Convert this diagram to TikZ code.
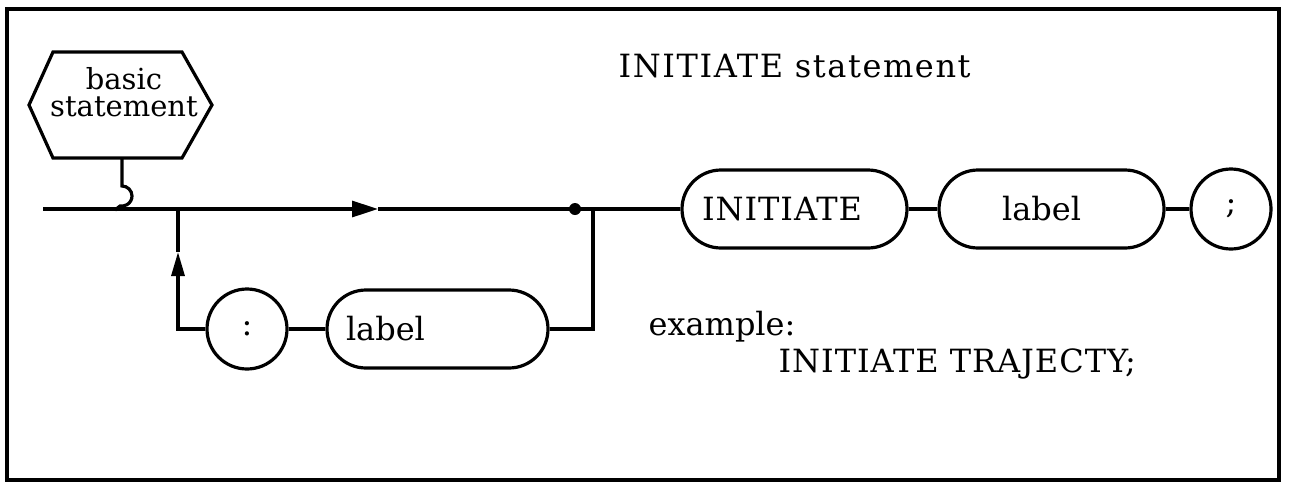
\documentclass[tikz,border=0pt]{standalone}
\usepackage{fontspec}
\setmainfont{DejaVu Serif}
\usetikzlibrary{arrows.meta}
\begin{document}
\begin{tikzpicture}[x=0.5pt,y=-0.5pt, line width=1.6pt,
  mainfont/.style={font=\fontsize{16}{18}\selectfont},
  pill/.style={draw, rounded corners=19.5pt, minimum height=39pt, inner ysep=0pt, align=left, mainfont},
  circ/.style={draw, circle, minimum size=40pt, inner sep=0pt, mainfont},
  txt/.style={inner sep=0pt, mainfont},
  dotnode/.style={circle, fill, minimum size=6pt, inner sep=0pt},
  bigtip/.style={-{Triangle[length=13pt,width=8pt]}},
  smalltip/.style={-{Triangle[length=12pt,width=6.5pt]}}
]
\useasboundingbox (0,0) rectangle (1289,483);
% frame
\draw[line width=1.8pt] (7,9) rectangle (1279,480);
% hexagon
\draw (29,105) -- (53,52) -- (182,52) -- (212,105) -- (182,158) -- (53,158) -- cycle;
\node[inner sep=0pt, align=center, font=\fontsize{14.5}{13.5}\selectfont] (bs) at (124,92) {basic\\statement};
\coordinate (hexb) at (122,158);
\coordinate (hk) at (122,186);
% title and example
\node[txt, anchor=base west, font=\fontsize{16}{18}\selectfont\addfontfeature{LetterSpace=5}] (title) at (617,77) {INITIATE statement};
\node[txt, anchor=base west] (ex) at (647,335) {example:};
\node[txt, anchor=base west, font=\fontsize{16}{18}\selectfont\addfontfeature{LetterSpace=3}] (exl) at (777,372) {INITIATE TRAJECTY;};
% boxes
\node[pill, inner xsep=10pt, text width=92.5pt, font=\fontsize{16}{18}\selectfont\addfontfeature{LetterSpace=3}] (ini) at (794.5,209) {INITIATE};
\node[pill, inner xsep=31.5pt, text width=49.5pt] (lab1) at (1051.5,209) {label};
\node[circ] (semi) at (1231,209) {;};
\node[circ] (colon) at (247,329) {:};
\node[pill, inner xsep=9.5pt, text width=91.5pt] (lab2) at (437.5,329) {label};
% coordinates
\coordinate (start) at (43,209);
\coordinate (jl) at (178,209);
\coordinate (ar1) at (378,209);
\coordinate (ar2) at (178,252);
\coordinate (jr) at (593,209);
\node[dotnode] (dot) at (575,209) {};
% connectors
\draw (hexb) -- (hk) arc[start angle=-90, end angle=100, radius=10] -- (115,210);
\draw[bigtip] (start) -- (ar1);
\draw (ar1) -- (ini.west);
\draw (ini.east) -- (lab1.west);
\draw (lab1.east) -- (semi.west);
\draw[smalltip] (colon.west) -| (ar2);
\draw (ar2) -- (jl);
\draw (colon.east) -- (lab2.west);
\draw (lab2.east) -| (jr);
\end{tikzpicture}
\end{document}
